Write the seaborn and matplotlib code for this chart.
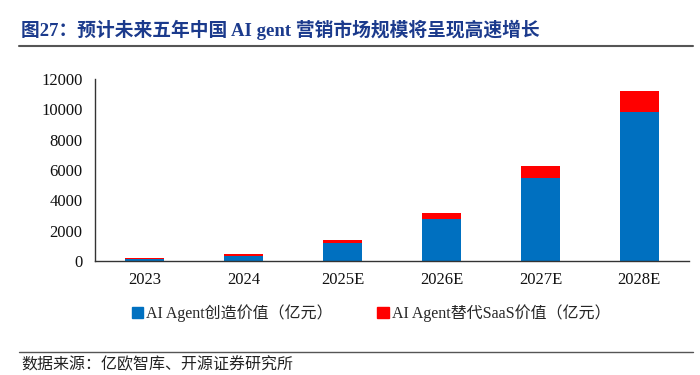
import matplotlib
matplotlib.use('Agg')
import matplotlib.pyplot as plt
import seaborn as sns
import pandas as pd
from matplotlib.lines import Line2D
from matplotlib.patches import Patch

years = ['2023', '2024', '2025E', '2026E', '2027E', '2028E']
created = [130, 330, 1170, 2750, 5460, 9860]
replaced = [50, 110, 220, 420, 810, 1370]

BLUE = '#0070C0'
RED = '#FF0000'
TITLE_BLUE = '#1B3A8C'

sns.set_theme(style='white')
plt.rcParams['font.family'] = ['Liberation Serif', 'Noto Sans CJK SC', 'DejaVu Sans']

data = pd.DataFrame({'year': years, 'created': created, 'replaced': replaced})
data['total'] = data['created'] + data['replaced']

fig = plt.figure(figsize=(7, 3.75), dpi=100)
ax = fig.add_axes([0.136, 0.304, 0.848, 0.485])

# stacked: total in red, created in blue on top of it
sns.barplot(data=data, x='year', y='total', color=RED, width=0.4,
            saturation=1, linewidth=0, ax=ax)
sns.barplot(data=data, x='year', y='created', color=BLUE, width=0.4,
            saturation=1, linewidth=0, ax=ax)

ax.set_xlim(-0.5, len(years) - 0.5)
ax.set_ylim(0, 12000)
ax.set_yticks(range(0, 12001, 2000))
ax.set_xlabel('')
ax.set_ylabel('')

for side in ['top', 'right']:
  ax.spines[side].set_visible(False)
for side in ['left', 'bottom']:
  ax.spines[side].set_color('#333333')
  ax.spines[side].set_linewidth(1.0)

ax.tick_params(axis='x', which='major', length=0, labelsize=12, pad=8,
               colors='#111111')
ax.set_xticks([i - 0.5 for i in range(len(years) + 1)], minor=True)
ax.tick_params(axis='x', which='minor', direction='in', length=4,
               color='#333333')
ax.tick_params(axis='y', length=3, direction='out', labelsize=12,
               colors='#111111', color='#333333', pad=6)

handles = [Patch(color=BLUE, label='AI Agent创造价值（亿元）'),
           Patch(color=RED, label='AI Agent替代SaaS价值（亿元）')]
fig.legend(handles=handles, loc='center', bbox_to_anchor=(0.53, 0.165),
           ncol=2, frameon=False, fontsize=11.5, handlelength=0.7,
           handleheight=0.7, handletextpad=0.2, columnspacing=2.8)

fig.text(0.03, 0.92, '图27：预计未来五年中国 AI gent 营销市场规模将呈现高速增长',
         fontsize=13.5, fontweight='bold', color=TITLE_BLUE, va='center')
fig.add_artist(Line2D([0.027, 0.99], [0.877, 0.877], color='#555555',
                      linewidth=1.5))
fig.add_artist(Line2D([0.027, 0.99], [0.062, 0.062], color='#555555',
                      linewidth=1.0))
fig.text(0.03, 0.025, '数据来源：亿欧智库、开源证券研究所', fontsize=11.5,
         color='#222222', va='center')

fig.savefig('out.png', dpi=100)
